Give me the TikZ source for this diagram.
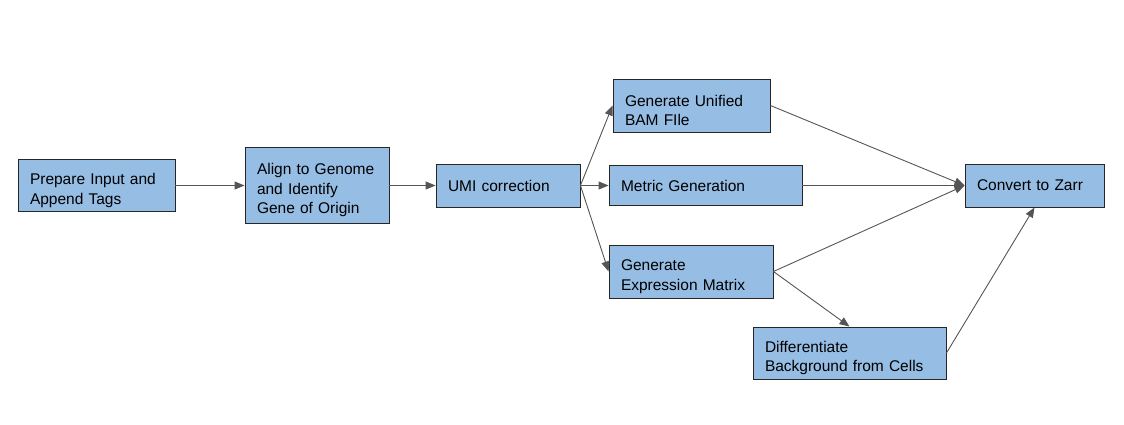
\documentclass[tikz,border=0pt]{standalone}
\usepackage{fontspec}
\setmainfont{Liberation Sans}
\usetikzlibrary{arrows.meta,positioning,calc}
\definecolor{boxblue}{RGB}{150,189,228}
\definecolor{linegray}{RGB}{85,85,85}
\tikzset{
  stepbox/.style={draw=black!85,fill=boxblue,line width=0.9pt,rectangle,
    inner xsep=12pt,inner ysep=0pt,align=left,font=\fontsize{15.5}{19.5}\selectfont},
  lowtext/.style={text height=21pt},
  flow/.style={draw=linegray,line width=0.9pt,-{Triangle[length=10pt,width=8pt]}}
}
\begin{document}
\begin{tikzpicture}[x=1pt,y=-1pt]
        \useasboundingbox (0,0) rectangle (1124,425);
        % draw boxes
        \node[stepbox,lowtext,text width=133pt,minimum height=52pt] (prep) at (96.5,185.5) {Prepare Input and\\Append Tags};
        \node[stepbox,lowtext,text width=120pt,minimum height=76pt] (align) at (317,185.5) {Align to Genome\\and Identify\\Gene of Origin};
        \node[stepbox,text width=120pt,minimum height=43pt] (umi) at (508,185.5) {UMI correction};
        \node[stepbox,lowtext,text width=133pt,minimum height=53pt] (bam) at (691.5,105.5) {Generate Unified\\BAM FIle};
        \node[stepbox,text width=169pt,minimum height=40pt] (metric) at (705.5,185.5) {Metric Generation};
        \node[stepbox,lowtext,text width=140pt,minimum height=53pt] (expr) at (691,271.5) {Generate\\Expression Matrix};
        \node[stepbox,lowtext,text width=169pt,minimum height=52pt] (diff) at (849.5,353) {Differentiate\\Background from Cells};
        \node[stepbox,text width=115pt,minimum height=43pt] (zarr) at (1034.5,185.5) {Convert to Zarr};
        % draw connectors
        \draw[flow] (prep.east) -- (align.west);
        \draw[flow] (align.east) -- (umi.west);
        \draw[flow] (umi.east) -- (bam.west);
        \draw[flow] (umi.east) -- (metric.west);
        \draw[flow] (umi.east) -- (expr.west);
        \draw[flow] (bam.east) -- (zarr.west);
        \draw[flow] (metric.east) -- (zarr.west);
        \draw[flow] (expr.east) -- (zarr.west);
        \draw[flow] (expr.east) -- (diff.north);
        \draw[flow] (diff.east) -- (zarr.south);
\end{tikzpicture}
\end{document}
